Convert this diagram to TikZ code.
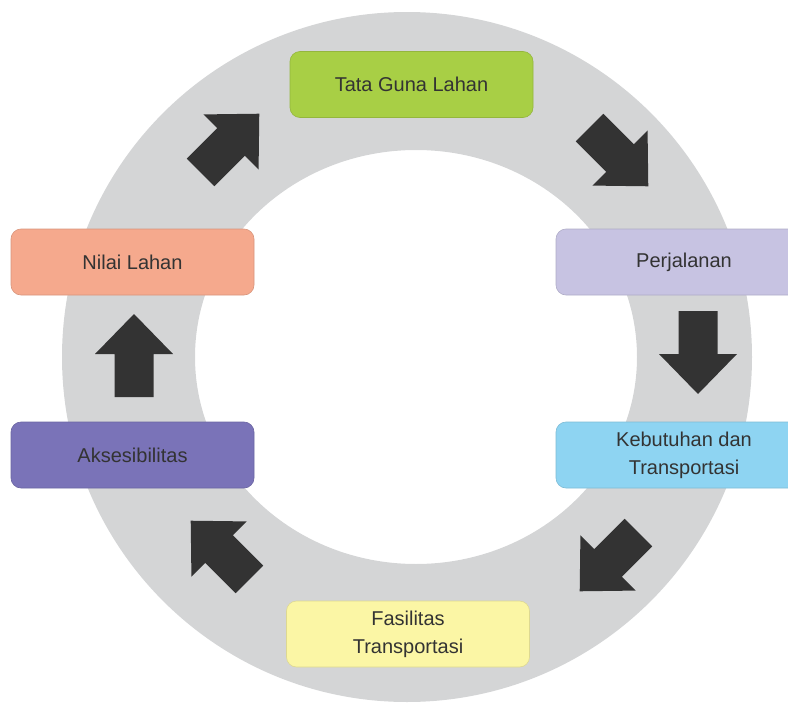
\documentclass[tikz,border=0pt]{standalone}
\usepackage{fontspec}
\setmainfont{Liberation Sans}
\definecolor{ringgray}{HTML}{D4D5D6}
\definecolor{arrowgray}{HTML}{333333}
\definecolor{textgray}{HTML}{333333}
\definecolor{cgreen}{HTML}{A8CF45}
\definecolor{clav}{HTML}{C7C3E2}
\definecolor{cblue}{HTML}{8ED4F2}
\definecolor{cyellow}{HTML}{FBF6A5}
\definecolor{csalmon}{HTML}{F5A98D}
\definecolor{cpurple}{HTML}{7A73B8}
\begin{document}
\begin{tikzpicture}[x=1pt,y=-1pt,
  stagebox/.style={rectangle, rounded corners=10pt, minimum width=243pt, minimum height=66pt,
    inner sep=0pt, align=center, text=textgray, font=\fontsize{20}{28}\selectfont,
    fill=#1, draw=#1!88!black, line width=0.6pt},
  blockarrow/.pic={\fill[arrowgray] (-43,-19.5) -- (0,-19.5) -- (0,-39) -- (40,0) -- (0,39) -- (0,19.5) -- (-43,19.5) -- cycle;}
]
\useasboundingbox (0,0) rectangle (788,704);
\clip (0,0) rectangle (788,704);
% ring
\fill[ringgray, even odd rule] (407,357) circle (345) (416,357) ellipse (221 and 207);
% boxes
\node[stagebox=cgreen] (tata) at (411.5,84.5) {Tata Guna Lahan};
\node[stagebox=clav, minimum width=256pt] (jalan) at (684,262) {Perjalanan};
\node[stagebox=cblue, minimum width=256pt] (butuh) at (684,455) {Kebutuhan dan\\Transportasi};
\node[stagebox=cyellow] (fasil) at (408,634) {Fasilitas\\Transportasi};
\node[stagebox=cpurple] (akses) at (132.5,455) {Aksesibilitas};
\node[stagebox=csalmon] (nilai) at (132.5,262) {Nilai Lahan};
% arrows
\pic[rotate=45] at (231,142) {blockarrow};
\pic[rotate=-45] at (620,158) {blockarrow};
\pic[rotate=-90] at (698,354) {blockarrow};
\pic[rotate=-135] at (608,563) {blockarrow};
\pic[rotate=135] at (219,549) {blockarrow};
\pic[rotate=90] at (134,354) {blockarrow};
\end{tikzpicture}
\end{document}
